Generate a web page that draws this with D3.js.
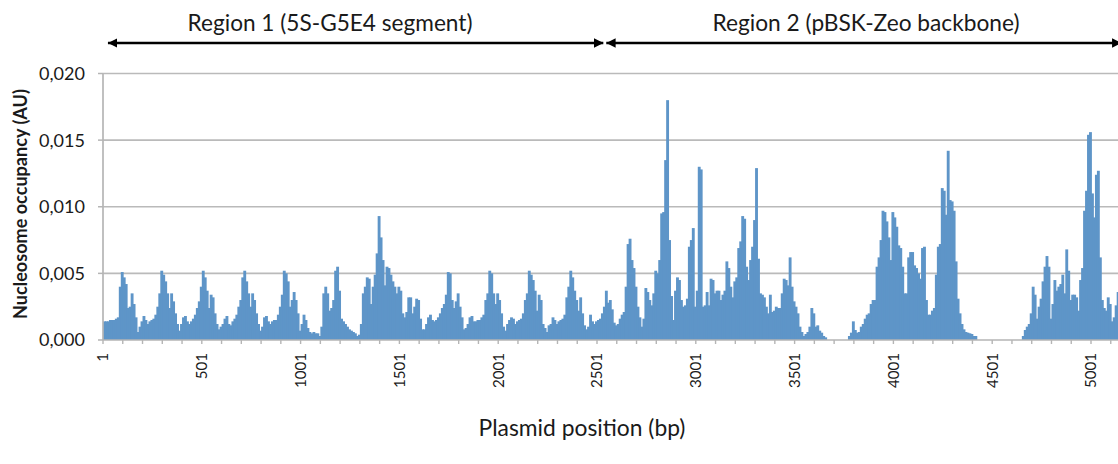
<!DOCTYPE html>
<html><head><meta charset="utf-8">
<script src="https://cdn.jsdelivr.net/npm/d3@7"></script>
<style>body{margin:0;background:#fff}svg{display:block}text{font-family:Lato,"Open Sans",sans-serif;fill:#1a1a1a}</style>
</head><body><svg id="c" width="1118" height="464"></svg>
<script>
// ---- data (one value per 10 bp bin, starting at bp 1) ----
const binSize = 10;
const region1Occupancy = [
0.0014,0.0014,0.0014,0.0015,0.0015,0.0015,0.0016,0.0017,0.0040,0.0051,
0.0047,0.0042,0.0024,0.0025,0.0035,0.0027,0.0017,0.0006,0.0010,0.0014,
0.0018,0.0015,0.0012,0.0014,0.0015,0.0016,0.0019,0.0025,0.0035,0.0052,
0.0049,0.0044,0.0035,0.0024,0.0035,0.0029,0.0020,0.0012,0.0007,0.0012,
0.0017,0.0018,0.0014,0.0012,0.0014,0.0016,0.0019,0.0024,0.0029,0.0040,
0.0052,0.0047,0.0037,0.0024,0.0034,0.0032,0.0020,0.0012,0.0008,0.0010,
0.0012,0.0016,0.0018,0.0012,0.0011,0.0014,0.0016,0.0019,0.0025,0.0030,
0.0047,0.0052,0.0044,0.0035,0.0025,0.0035,0.0030,0.0020,0.0012,0.0007,
0.0010,0.0017,0.0018,0.0014,0.0012,0.0014,0.0015,0.0015,0.0019,0.0025,
0.0034,0.0052,0.0050,0.0044,0.0025,0.0030,0.0036,0.0030,0.0020,0.0007,
0.0012,0.0019,0.0015,0.0009,0.0006,0.0005,0.0006,0.0005,0.0005,0.0003,
0.0010,0.0035,0.0040,0.0035,0.0022,0.0024,0.0030,0.0052,0.0055,0.0037,
0.0016,0.0014,0.0012,0.0010,0.0008,0.0007,0.0006,0.0005,0.0003,0.0004,
0.0012,0.0035,0.0040,0.0047,0.0046,0.0027,0.0040,0.0049,0.0065,0.0093,
0.0077,0.0060,0.0041,0.0055,0.0054,0.0049,0.0044,0.0040,0.0035,0.0040,
0.0037,0.0020,0.0017,0.0021,0.0032,0.0032,0.0020,0.0025,0.0031,0.0030,
0.0016,0.0008,0.0008,0.0012,0.0017,0.0019,0.0015,0.0014,0.0015,0.0017,
0.0020,0.0024,0.0027,0.0034,0.0051,0.0050,0.0030,0.0024,0.0029,0.0035,
0.0025,0.0017,0.0008,0.0009,0.0012,0.0017,0.0018,0.0014,0.0014,0.0015,
0.0015,0.0017,0.0019,0.0030,0.0035,0.0052,0.0050,0.0035,0.0027,0.0035,
0.0030,0.0020,0.0010,0.0007,0.0012,0.0015,0.0017,0.0016,0.0012,0.0014,
0.0015,0.0016,0.0020,0.0030,0.0035,0.0052,0.0049,0.0045,0.0037,0.0022,
0.0034,0.0030,0.0012,0.0009,0.0006,0.0011,0.0012,0.0017,0.0015,0.0012,
0.0014,0.0015,0.0016,0.0019,0.0032,0.0040,0.0052,0.0047,0.0037,0.0030,
0.0022,0.0032,0.0020,0.0011,0.0008,0.0010,0.0019,0.0014,0.0012,0.0014,
0.0015,0.0016
];
const region2Occupancy = [
0.0020,0.0025,0.0037,0.0028,0.0030,0.0023,0.0013,0.0011,0.0012,0.0016,
0.0019,0.0021,0.0040,0.0072,0.0076,0.0060,0.0054,0.0040,0.0025,0.0017,
0.0010,0.0016,0.0039,0.0036,0.0030,0.0026,0.0035,0.0052,0.0050,0.0060,
0.0095,0.0096,0.0135,0.0180,0.0075,0.0033,0.0015,0.0037,0.0047,0.0045,
0.0030,0.0025,0.0026,0.0031,0.0070,0.0075,0.0084,0.0025,0.0037,0.0130,
0.0128,0.0025,0.0026,0.0036,0.0026,0.0046,0.0045,0.0035,0.0037,0.0037,
0.0030,0.0034,0.0037,0.0059,0.0054,0.0040,0.0032,0.0044,0.0047,0.0069,
0.0074,0.0093,0.0091,0.0055,0.0045,0.0060,0.0070,0.0090,0.0129,0.0061,
0.0035,0.0034,0.0032,0.0025,0.0020,0.0034,0.0021,0.0022,0.0025,0.0024,
0.0024,0.0035,0.0046,0.0045,0.0041,0.0062,0.0040,0.0029,0.0025,0.0020,
0.0010,0.0006,0.0003,0.00045,0.0006,0.0010,0.0024,0.0020,0.0010,0.0011,
0.0007,0.00055,0.0003,0.0002,0,0,0,0,0,0,
0,0,0,0,0,0.0003,0.00055,0.0014,0.00075,0.00055,
0.0006,0.0010,0.0012,0.0016,0.0019,0.0020,0.0027,0.0030,0.0030,0.0055,
0.0062,0.0075,0.0097,0.0096,0.0089,0.0077,0.0060,0.0096,0.0092,0.0085,
0.0071,0.0069,0.0055,0.0035,0.0035,0.0062,0.0066,0.0066,0.0056,0.0054,
0.0050,0.0046,0.0069,0.0070,0.0030,0.0019,0.0019,0.0022,0.0024,0.0049,
0.0070,0.0072,0.0114,0.0112,0.0094,0.0142,0.0105,0.0104,0.0097,0.0059,
0.0031,0.0020,0.0012,0.0008,0.0006,0.00055,0.0005,0.00045,0.0003,0.0003,
0,0,0,0,0,0,0,0,0,0,
0,0,0,0,0,0,0,0,0,0,
0,0,0,0.0003,0.00075,0.0010,0.0012,0.0020,0.0040,0.0034,
0.0016,0.0025,0.0031,0.0044,0.0055,0.0063,0.0055,0.0016,0.0027,0.0045,
0.0037,0.0040,0.0042,0.0049,0.0035,0.0068,0.0052,0.0030,0.0034,0.0034,
0.0032,0.0022,0.0045,0.0054,0.0097,0.0112,0.0154,0.0156,0.0110,0.0092,
0.0124,0.0127,0.0062,0.0030,0.0024,0.0022,0.0032,0.0027,0.0014,0.0017,
0.0026,0.0036,0.0038
];
const xTickLabels = ["1","501","1001","1501","2001","2501","3001","3501","4001","4501","5001"];
const yTickValues = [0, 0.005, 0.010, 0.015, 0.020];
const regionLabels = ["Region 1 (5S-G5E4 segment)", "Region 2 (pBSK-Zeo backbone)"];
const regionSpans = [[26, 2533], [2548, 5155]];   // bp
const yTitle = "Nucleosome occupancy (AU)";
const xTitle = "Plasmid position (bp)";

// ---- build ----
const occupancy = region1Occupancy.concat(region2Occupancy);
const bins = occupancy.map((v, i) => ({start: 1 + i * binSize, value: v}));

const W = 1118, H = 464;
const svg = d3.select("#c");
const x = d3.scaleLinear().domain([1, 5001]).range([103, 1091]);
const y = d3.scaleLinear().domain([0, 0.02]).range([340, 73.5]);
const fmt = d3.formatLocale({decimal: ",", thousands: ".", grouping: [3], currency: ["", ""]}).format(".3f");

// scale a text so that its rendered width equals a target width
function fitWidth(sel, target) {
  sel.each(function() {
    const fs = parseFloat(this.style.fontSize);
    const w = this.getComputedTextLength();
    if (w > 0) this.style.fontSize = (fs * target / w).toFixed(2) + "px";
  });
}

svg.append("defs").append("clipPath").attr("id", "clip")
  .append("rect").attr("x", 0).attr("y", 0).attr("width", W).attr("height", H);
const g = svg.append("g").attr("clip-path", "url(#clip)");

// gridlines
g.selectAll("line.grid").data(yTickValues.filter(d => d > 0)).join("line")
  .attr("x1", x(1)).attr("x2", W + 5)
  .attr("y1", d => y(d)).attr("y2", d => y(d))
  .attr("stroke", "#bababa").attr("stroke-width", 1.7);

// bars
g.selectAll("rect.bar").data(bins).join("rect")
  .attr("x", d => x(d.start))
  .attr("width", d => x(d.start + binSize) - x(d.start) + 0.9)
  .attr("y", d => y(d.value))
  .attr("height", d => y(0) - y(d.value))
  .attr("fill", "#5e95c8");

// axes lines
g.append("line").attr("x1", x(1)).attr("x2", x(1)).attr("y1", y(0.02)).attr("y2", y(0))
  .attr("stroke", "#b5b5b5").attr("stroke-width", 1.7);
g.append("line").attr("x1", x(1)).attr("x2", W + 5).attr("y1", y(0)).attr("y2", y(0))
  .attr("stroke", "#b5b5b5").attr("stroke-width", 1.7);

// y ticks
g.selectAll("line.yt").data(yTickValues).join("line")
  .attr("x1", x(1) - 5).attr("x2", x(1)).attr("y1", d => y(d)).attr("y2", d => y(d))
  .attr("stroke", "#b5b5b5").attr("stroke-width", 1.5);
const yl = svg.selectAll("text.yl").data(yTickValues).join("text")
  .attr("x", 85).attr("y", d => y(d)).attr("dy", "0.36em")
  .attr("text-anchor", "end").style("font-size", "17px")
  .text(d => fmt(d));
fitWidth(yl, 46);

// x minor ticks every 100 bp
const minorTicks = d3.range(1, 5160, 100);
g.selectAll("line.xt").data(minorTicks).join("line")
  .attr("x1", d => x(d)).attr("x2", d => x(d)).attr("y1", y(0)).attr("y2", y(0) + 4)
  .attr("stroke", "#b5b5b5").attr("stroke-width", 1.4);

// x tick labels (rotated)
const xl = svg.selectAll("text.xl").data(xTickLabels).join("text")
  .attr("transform", d => `translate(${x(+d)},353) rotate(-90)`)
  .attr("dy", "0.36em").attr("text-anchor", "end").style("font-size", "16px")
  .text(d => d);
fitWidth(xl.filter(d => d === "1001"), 35);
const xfs = xl.filter(d => d === "1001").style("font-size");
xl.style("font-size", xfs);

// titles
const yt = svg.append("text").attr("transform", "translate(20,204) rotate(-90)")
  .attr("text-anchor", "middle").attr("dy", "0.36em")
  .style("font-size", "15px").style("font-weight", "bold").text(yTitle);
fitWidth(yt, 230);
const xtt = svg.append("text").attr("x", 582).attr("y", 436).attr("text-anchor", "middle")
  .style("font-size", "20px").text(xTitle);
fitWidth(xtt, 207);

// region labels + double arrows
const arrowY = 43;
const defs = svg.select("defs");
["start", "end"].forEach(k => {
  defs.append("marker").attr("id", "ah-" + k)
    .attr("viewBox", "0 0 10 10").attr("refX", k === "end" ? 10 : 0).attr("refY", 5)
    .attr("markerWidth", 3.6).attr("markerHeight", 3.6).attr("markerUnits", "strokeWidth")
    .attr("orient", "auto")
    .append("path").attr("d", k === "end" ? "M0,0 L10,5 L0,10 Z" : "M10,0 L0,5 L10,10 Z").attr("fill", "#000");
});
const rg = svg.append("g");
rg.selectAll("line").data(regionSpans).join("line")
  .attr("x1", d => x(d[0])).attr("x2", d => x(d[1]))
  .attr("y1", arrowY).attr("y2", arrowY)
  .attr("stroke", "#000").attr("stroke-width", 2.6)
  .attr("marker-start", "url(#ah-start)").attr("marker-end", "url(#ah-end)");
const labelCenters = [330, 866];
const rl = rg.selectAll("text").data(regionLabels).join("text")
  .attr("x", (d, i) => labelCenters[i]).attr("y", 31).attr("text-anchor", "middle")
  .style("font-size", "20px").text(d => d);
fitWidth(rl.filter((d, i) => i === 0), 285);
fitWidth(rl.filter((d, i) => i === 1), 307);
</script></body></html>
